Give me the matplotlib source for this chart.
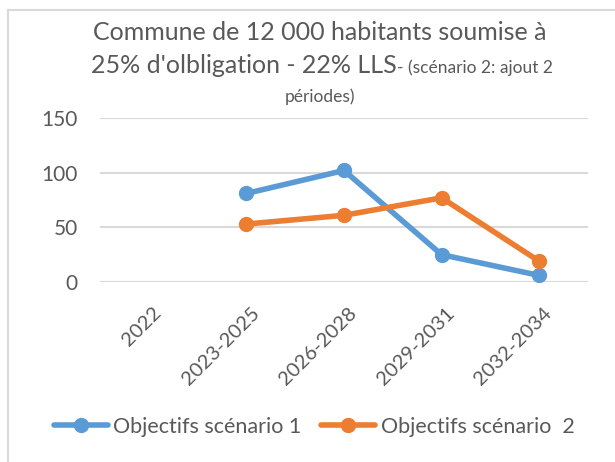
import matplotlib
matplotlib.use("Agg")
from matplotlib import pyplot as plt
from matplotlib.lines import Line2D
from matplotlib.transforms import ScaledTranslation

periodes = ["2022", "2023-2025", "2026-2028", "2029-2031", "2032-2034"]
scenario1 = [None, 81, 102, 25, 6]
scenario2 = [None, 53, 61, 77, 19]
yticks = [0, 50, 100, 150]

BLUE = "#5B9BD5"
ORANGE = "#ED7D31"
GREY_TXT = "#595959"
GRID = "#D9D9D9"
FONT = "Lato"

plt.rcParams["font.family"] = [FONT, "DejaVu Sans"]

W, H = 615, 462
fig = plt.figure(figsize=(W / 100, H / 100), dpi=100)
ax = fig.add_axes([100 / W, 1 - 282 / H, (588 - 100) / W, (282 - 118) / H])

x = list(range(len(periodes)))
y1 = [v if v is not None else float("nan") for v in scenario1]
y2 = [v if v is not None else float("nan") for v in scenario2]
ax.plot(x, y1, color=BLUE, lw=4, marker="o", ms=10, label="Objectifs scénario 1",
        solid_capstyle="round", zorder=3)
ax.plot(x, y2, color=ORANGE, lw=4, marker="o", ms=10, label="Objectifs scénario  2",
        solid_capstyle="round", zorder=3)

ax.set_xlim(-0.5, len(periodes) - 0.5)
ax.set_ylim(0, 150)
ax.set_yticks(yticks)
ax.set_yticklabels([str(t) for t in yticks], fontsize=15, color=GREY_TXT)
ax.yaxis.grid(True, color=GRID, lw=1.5)
ax.set_axisbelow(True)
for s in ax.spines.values():
    s.set_visible(False)
ax.tick_params(axis="both", length=0)
ax.tick_params(axis="y", pad=16)
ax.set_xticks(x)
ax.set_xticklabels(periodes, rotation=45, ha="right", rotation_mode="anchor",
                   fontsize=14.5, color=GREY_TXT)
ax.tick_params(axis="x", pad=16)
shift = ScaledTranslation(4 / 100, 0, fig.dpi_scale_trans)
for lab in ax.get_xticklabels():
    lab.set_transform(lab.get_transform() + shift)

# chart frame (top and left only visible)
fig.add_artist(Line2D([8 / W, 1], [1 - 10 / H, 1 - 10 / H], color="#D9D9D9", lw=1.5))
fig.add_artist(Line2D([8 / W, 8 / W], [0, 1 - 10 / H], color="#D9D9D9", lw=1.5))

# title with mixed font sizes
fig.text(320 / W, 1 - 32 / H, "Commune de 12 000 habitants soumise à", ha="center", va="center",
         fontsize=18, color=GREY_TXT)
fig.canvas.draw()
rend = fig.canvas.get_renderer()
big = fig.text(0, 1 - 73 / H, "25% d'olbligation - 22% LLS", ha="left", va="baseline",
               fontsize=18, color=GREY_TXT)
small = fig.text(0, 1 - 73 / H, "- (scénario 2: ajout 2", ha="left", va="baseline",
                 fontsize=12.5, color=GREY_TXT)
wb = big.get_window_extent(rend).width
ws = small.get_window_extent(rend).width
start = (322 - (wb + ws) / 2) / W
big.set_x(start)
small.set_x(start + wb / W)
fig.text(320 / W, 1 - 97 / H, "périodes)", ha="center", va="center", fontsize=12.5, color=GREY_TXT)

fig.legend(loc="center", bbox_to_anchor=(314 / W, 1 - 427 / H), ncol=2, frameon=False,
           fontsize=15.5, labelcolor=GREY_TXT, handlelength=2.5, handletextpad=0.27,
           columnspacing=0.9)

fig.savefig("out.png", dpi=100)
